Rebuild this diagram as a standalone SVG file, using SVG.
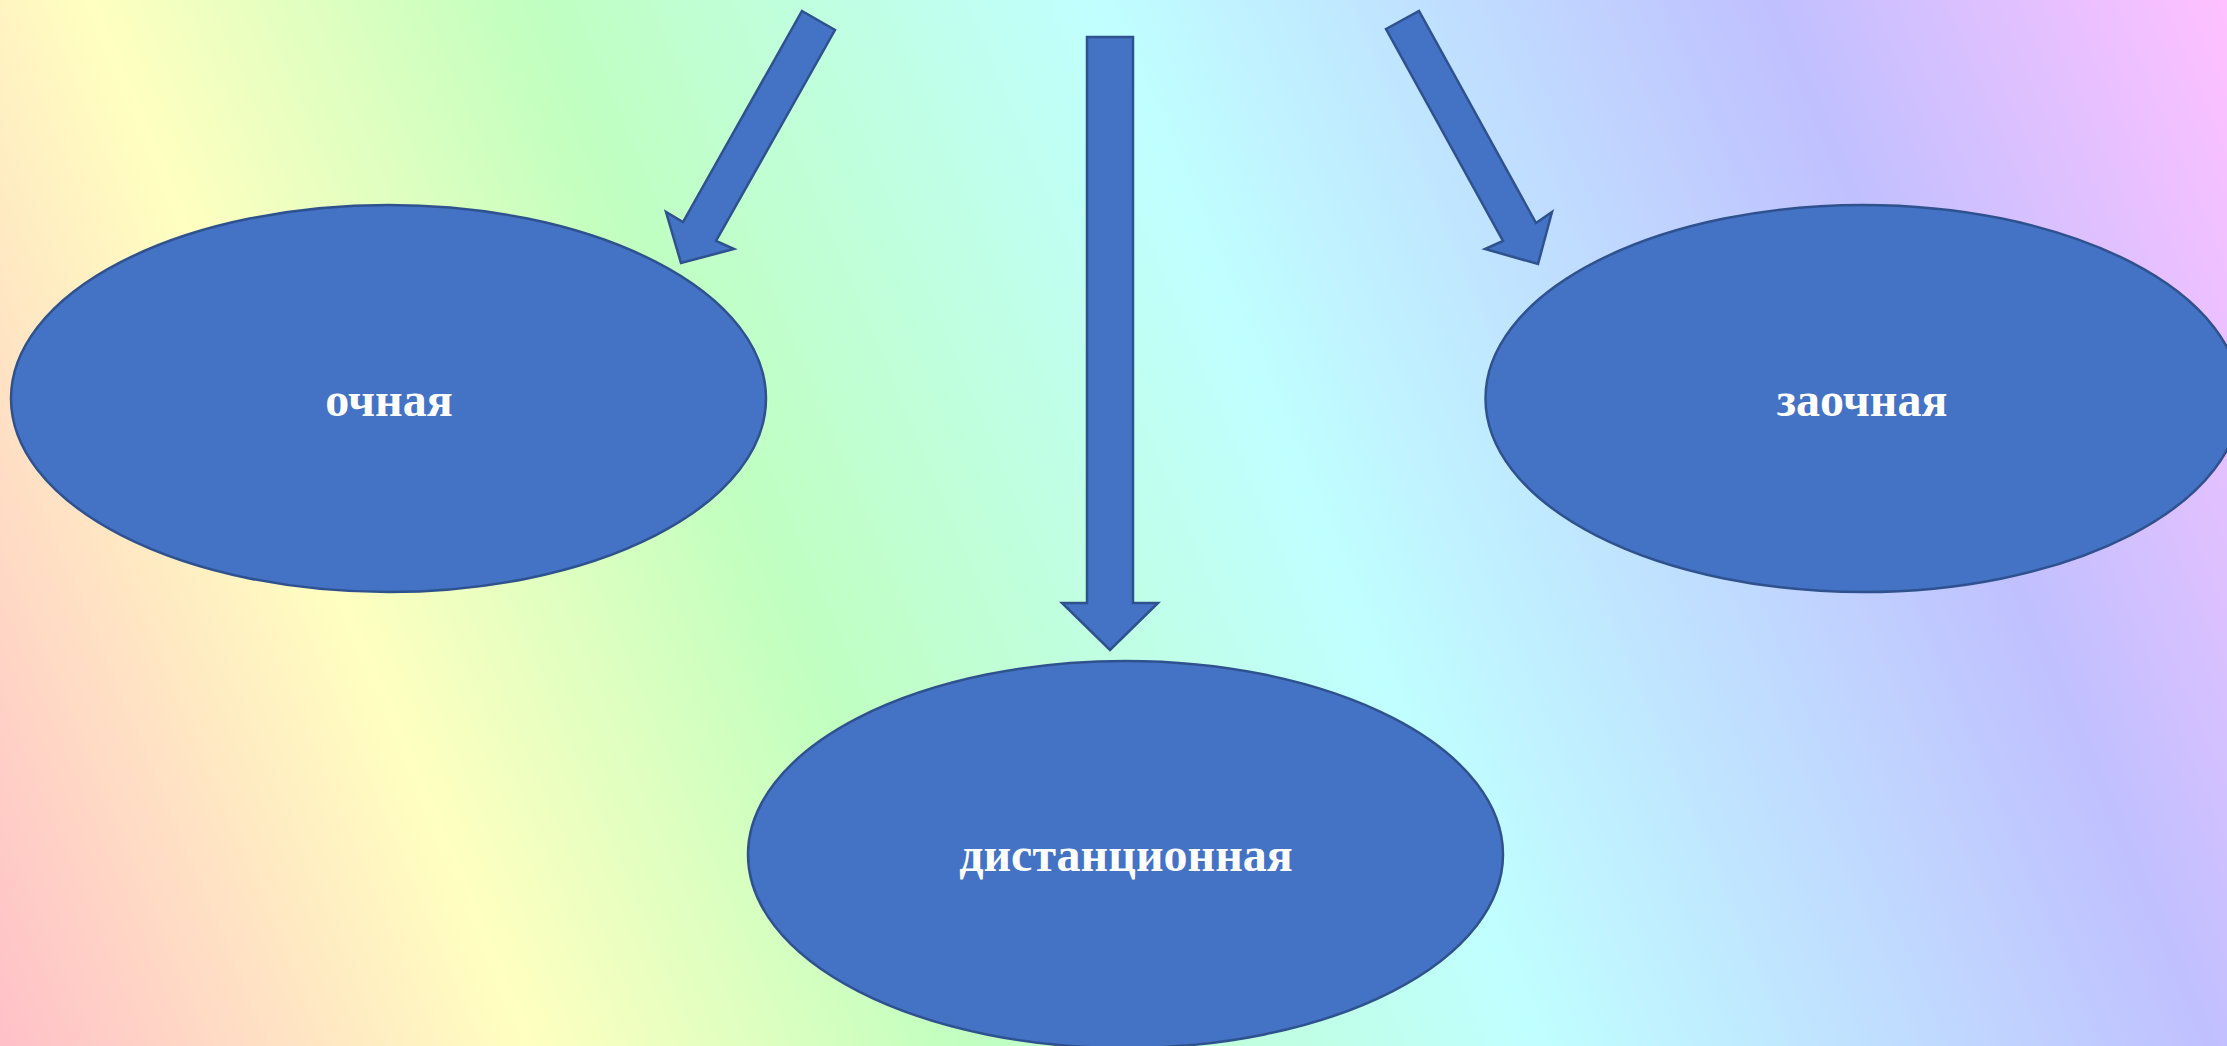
<svg xmlns="http://www.w3.org/2000/svg" width="2227" height="1046" viewBox="0 0 2227 1046">
  <defs>
    <linearGradient id="bg" gradientUnits="userSpaceOnUse" x1="-373" y1="157" x2="1891" y2="-796">
      <stop offset="0" stop-color="#FFC0C8"/>
      <stop offset="0.197" stop-color="#FFFFC0"/>
      <stop offset="0.364" stop-color="#C0FFC0"/>
      <stop offset="0.576" stop-color="#C0FFFF"/>
      <stop offset="0.828" stop-color="#C0C0FF"/>
      <stop offset="1" stop-color="#FFC0FF"/>
    </linearGradient>
    <style>
      .node { fill: #4472C4; stroke: #2F528F; stroke-width: 2.5; }
      .arrow { fill: #4472C4; stroke: #2F528F; stroke-width: 2.5; stroke-linejoin: miter; }
      .label { font-family: "Liberation Serif", "Times New Roman", serif; font-weight: bold; font-size: 48px; fill: #FFFFFF; text-anchor: middle; }
    </style>
  </defs>
  <rect x="0" y="0" width="2227" height="1046" fill="url(#bg)"/>
  <g id="connectors">
    <polygon class="arrow" points="802,11 835,30 716,241 734,249 681,263 666,212 683,222"/>
    <polygon class="arrow" points="1087,37 1133,37 1133,603 1158,603 1110,650 1062,603 1087,603"/>
    <polygon class="arrow" points="1386,29 1419,11 1536,223 1552,212 1538,264 1485,249 1503,241"/>
  </g>
  <g id="node-ochnaya">
    <ellipse class="node" cx="388.5" cy="398.5" rx="377.5" ry="193.5"/>
    <text class="label" x="389" y="416">очная</text>
  </g>
  <g id="node-zaochnaya">
    <ellipse class="node" cx="1863" cy="398.5" rx="377.5" ry="193.5"/>
    <text class="label" x="1862" y="416">заочная</text>
  </g>
  <g id="node-distancionnaya">
    <ellipse class="node" cx="1125.5" cy="854.5" rx="377.5" ry="193.5"/>
    <text class="label" x="1126" y="871">дистанционная</text>
  </g>
</svg>
